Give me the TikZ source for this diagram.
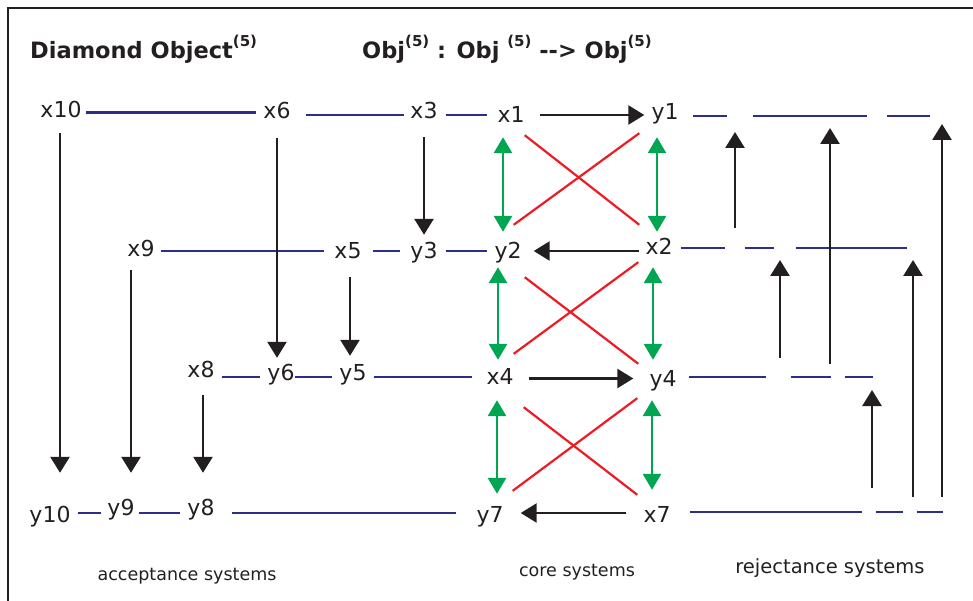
\documentclass[tikz,border=0pt]{standalone}
\usepackage{fontspec}
\setmainfont{DejaVu Sans}
\usetikzlibrary{arrows.meta}

\definecolor{lineblue}{RGB}{43,46,140}
\definecolor{crossred}{RGB}{237,28,36}
\definecolor{linkgreen}{RGB}{0,166,81}
\definecolor{inkgrey}{RGB}{35,31,32}

\newcommand{\expo}[1]{\raisebox{12pt}{\fontsize{15}{15}\selectfont #1}}

\tikzset{
  sys/.style={inner sep=0pt, text height=16pt, text depth=5pt, anchor=base,
    text=inkgrey, font=\fontsize{22}{26}\selectfont},
  headline/.style={inner sep=0pt, anchor=base west, text=inkgrey,
    font=\fontsize{22.5}{26}\selectfont\bfseries},
  group/.style={inner sep=0pt, anchor=base, text=inkgrey},
  rel/.style={draw=lineblue, line width=2.8pt},
  map/.style={draw=inkgrey, line width=2.6pt, -{Triangle[width=19pt,length=16pt]}},
  twin/.style={draw=linkgreen, line width=2.8pt,
    {Triangle[width=18pt,length=16pt]}-{Triangle[width=18pt,length=16pt]}},
  cross/.style={draw=crossred, line width=2.2pt},
  cut/.style 2 args={shorten <=#1pt, shorten >=#2pt}
}

\begin{document}
\begin{tikzpicture}[x=1pt, y=-1pt]
  \useasboundingbox (0,0) rectangle (973,601);

  % frame
  \draw[inkgrey, line width=2.4pt] (8,601) -- (8,8) -- (973,8);

  % titles
  \node[headline] (ttl) at (30,59) {Diamond Object\expo{(5)}};
  \node[headline] (map) at (362,59) {Obj\expo{(5)} : Obj \expo{(5)} {-}{-}> Obj\expo{(5)}};

  % row levels
  \coordinate (r1) at (0,115);
  \coordinate (r2) at (0,251);
  \coordinate (r3) at (0,377);
  \coordinate (r4) at (0,513);
  \coordinate (rej1) at (930,116);
  \coordinate (rej2) at (907,248);
  \coordinate (rej3) at (873,377);
  \coordinate (rej4) at (943,512);

  % objects
  \node[sys] (x10) at (61,118) {x10};
  \node[sys] (x6) at (277,119) {x6};
  \node[sys] (x3) at (424,119) {x3};
  \node[sys] (x1) at (511,123) {x1};
  \node[sys] (y1) at (665,120) {y1};

  \node[sys] (x9) at (141,257) {x9};
  \node[sys] (x5) at (348,259) {x5};
  \node[sys] (y3) at (424,259) {y3};
  \node[sys] (y2) at (508,259) {y2};
  \node[sys] (x2) at (659,255) {x2};

  \node[sys] (x8) at (201,377) {x8};
  \node[sys] (y6) at (281,380) {y6};
  \node[sys] (y5) at (353,380) {y5};
  \node[sys] (x4) at (500,384) {x4};
  \node[sys] (y4) at (663,386) {y4};

  \node[sys] (y10) at (50,522) {y10};
  \node[sys] (y9) at (121,515) {y9};
  \node[sys] (y8) at (201,515) {y8};
  \node[sys] (y7) at (490,522) {y7};
  \node[sys] (x7) at (657,522) {x7};

  % system groups
  \node[group, font=\fontsize{17.5}{20}\selectfont] (acc) at (187,580) {acceptance systems};
  \node[group, font=\fontsize{17.5}{20}\selectfont] (core) at (577,576) {core systems};
  \node[group, font=\fontsize{19.5}{22}\selectfont] (rej) at (830,573) {rejectance systems};

  % blue relations
  \draw[rel, cut={4}{7}] (x10.east) -- (x10.east -| x6.west);
  \draw[rel, cut={15}{6}] (x6.east |- r1) -- (x3.west |- r1);
  \draw[rel, cut={8}{10}] (x3.east |- r1) -- (x1.west |- r1);
  \draw[rel, cut={6}{10}] (x9.east |- r2) -- (x5.west |- r2);
  \draw[rel, cut={11}{10}] (x5.east |- r2) -- (y3.west |- r2);
  \draw[rel, cut={8}{7}] (y3.east |- r2) -- (y2.west |- r2);
  \draw[rel, cut={7}{7}] (x8.east |- r3) -- (y6.west |- r3);
  \draw[rel, cut={0}{7}] (y6.east |- r3) -- (y5.west |- r3);
  \draw[rel, cut={7}{14}] (y5.east |- r3) -- (x4.west |- r3);
  \draw[rel, cut={7}{6}] (y10.east |- r4) -- (y9.west |- r4);
  \draw[rel, cut={4}{7}] (y9.east |- r4) -- (y8.west |- r4);
  \draw[rel, cut={17}{20}] (y8.east |- r4) -- (y7.west |- r4);

  % rejectance lines
  \draw[rel, shorten <=14pt, dash pattern=on 34pt off 26pt on 114pt off 20pt on 44pt] (y1.east |- rej1) -- (rej1);
  \draw[rel, shorten <=8pt, dash pattern=on 44pt off 20pt on 29pt off 22pt on 112pt] (x2.east |- rej2) -- (rej2);
  \draw[rel, shorten <=12pt, dash pattern=on 77pt off 25pt on 40pt off 14pt on 29pt] (y4.east |- rej3) -- (rej3);
  \draw[rel, shorten <=19pt, dash pattern=on 172pt off 14pt on 27pt off 14pt on 27pt] (x7.east |- rej4) -- (rej4);

  % acceptance mappings
  \draw[map, cut={10}{33}] ([xshift=-1pt]x10.south) -- ([xshift=10pt]y10.north);
  \draw[map, cut={8}{26}] ([xshift=-10pt]x9.south) -- ([xshift=10pt]y9.north);
  \draw[map, cut={13}{26}] ([xshift=2pt]x8.south) -- ([xshift=2pt]y8.north);
  \draw[map, cut={14}{6}] (x6.south) -- ([xshift=-4pt]y6.north);
  \draw[map, cut={13}{8}] (x3.south) -- (y3.north);
  \draw[map, cut={13}{8}] ([xshift=2pt]x5.south) -- ([xshift=-3pt]y5.north);

  % core mappings
  \draw[map, cut={15}{7}] (x1.east |- r1) -- (y1.west |- r1);
  \draw[map, cut={6}{12}] (x2.west |- r2) -- (y2.east |- r2);
  \draw[map, cut={15}{16}] (x4.east) -- (x4.east -| y4.west);
  \draw[map, cut={17}{17}] (x7.west |- r4) -- (y7.east |- r4);

  \draw[twin, cut={9}{11}] ([xshift=-8pt]x1.south) -- ([xshift=-5pt]y2.north);
  \draw[twin, cut={12}{7}] ([xshift=-8pt]y1.south) -- ([xshift=-2pt]x2.north);
  \draw[twin, cut={3}{8}] ([xshift=-10pt]y2.south) -- ([xshift=-2pt]x4.north);
  \draw[twin, cut={7}{10}] ([xshift=-6pt]x2.south) -- ([xshift=-10pt]y4.north);
  \draw[twin, cut={11}{12}] ([xshift=-3pt]x4.south) -- ([xshift=7pt]y7.north);
  \draw[twin, cut={9}{16}] ([xshift=-11pt]y4.south) -- ([xshift=-5pt]x7.north);

  \draw[cross] ([shift={(0,7)}]x1.south east) -- ([shift={(-6,-14)}]x2.north west);
  \draw[cross] ([shift={(-12,8)}]y1.south west) -- ([shift={(-8,-18)}]y2.north east);
  \draw[cross] ([shift={(3,13)}]y2.south east) -- ([shift={(-11,-6)}]y4.north west);
  \draw[cross] ([shift={(-7,2)}]x2.south west) -- ([shift={(0,-14)}]x4.north east);
  \draw[cross] ([shift={(10,18)}]x4.south east) -- ([shift={(-6,-11)}]x7.north west);
  \draw[cross] ([shift={(-12,7)}]y4.south west) -- ([shift={(9,-15)}]y7.north east);

  % rejectance mappings
  \foreach \cx/\from/\to/\a/\b [count=\i] in {735/rej2/rej1/20/16, 830/rej3/rej1/13/12,
      942/rej4/rej1/15/8, 780/rej3/rej2/19/12, 913/rej4/rej2/15/12, 872/rej4/rej3/24/13} {
    \coordinate (up\i) at (\cx,0);
    \draw[map, cut={\a}{\b}] (up\i |- \from) -- (up\i |- \to);
  }
\end{tikzpicture}
\end{document}
